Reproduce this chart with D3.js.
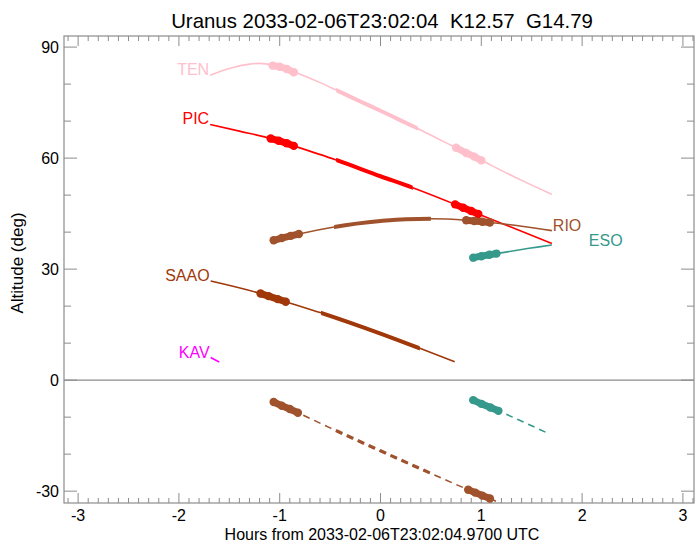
<!DOCTYPE html>
<html>
<head>
<meta charset="utf-8">
<script src="https://cdn.jsdelivr.net/npm/d3@7"></script>
<style>
  html, body { margin: 0; padding: 0; background: #fff; }
  svg { display: block; font-family: "Liberation Sans", Arial, Helvetica, sans-serif; }
</style>
</head>
<body>
<svg id="chart" width="695" height="543"></svg>
<script>
// ---------- data (hours from reference time, altitude in degrees) ----------
const titleText = "Uranus 2033-02-06T23:02:04  K12.57  G14.79";
const xLabel = "Hours from 2033-02-06T23:02:04.9700 UTC";
const yLabel = "Altitude (deg)";

const xTicks = [-3, -2, -1, 0, 1, 2, 3];
const yTicks = [-30, 0, 30, 60, 90];

// TEN
const tenHours = [-1.69, -1.5, -1.3, -1.2, -1.05, -0.85, -0.6, -0.44, -0.2, 0, 0.2, 0.37, 0.55, 0.75, 1.0, 1.3, 1.5, 1.7];
const tenAlt   = [82.4, 84.2, 85.4, 85.6, 85.0, 83.2, 80.4, 78.4, 75.3, 72.8, 70.2, 68.0, 65.5, 62.8, 59.4, 55.3, 52.7, 50.2];
const tenThick = [-0.44, 0.37];
const tenDots1 = [[-1.07, 85.0], [-1.0, 84.7], [-0.93, 84.1], [-0.86, 83.2]];
const tenDots2 = [[0.75, 62.8], [0.85, 61.4], [0.93, 60.4], [1.0, 59.4]];

// PIC
const picHours = [-1.69, -1.4, -1.09, -0.86, -0.44, 0, 0.32, 0.74, 0.97, 1.3, 1.7];
const picAlt   = [69.1, 67.3, 65.3, 63.3, 59.5, 55.1, 52.0, 47.5, 44.9, 41.3, 36.9];
const picThick = [-0.44, 0.32];
const picDots1 = [[-1.09, 65.3], [-1.01, 64.7], [-0.93, 64.0], [-0.86, 63.3]];
const picDots2 = [[0.74, 47.5], [0.82, 46.6], [0.90, 45.7], [0.97, 44.9]];

// RIO
const rioHours = [-1.09, -0.81, -0.46, 0, 0.25, 0.5, 0.85, 1.085, 1.4, 1.7];
const rioAlt   = [37.6, 39.5, 41.4, 43.0, 43.5, 43.6, 43.2, 42.6, 41.6, 40.4];
const rioThick = [-0.46, 0.5];
const rioDots1 = [[-1.06, 37.8], [-0.98, 38.4], [-0.89, 39.0], [-0.81, 39.5]];
const rioDots2 = [[0.85, 43.2], [0.93, 43.0], [1.01, 42.8], [1.085, 42.6]];

// ESO
const esoHours = [0.92, 1.15, 1.7];
const esoAlt   = [33.1, 34.2, 36.5];
const esoDots1 = [[0.92, 33.1], [1.0, 33.5], [1.08, 33.9], [1.15, 34.2]];

// SAAO
const saaoHours = [-1.685, -1.19, -0.94, -0.59, 0, 0.39, 0.736];
const saaoAlt   = [26.8, 23.4, 21.2, 18.2, 12.6, 8.6, 4.95];
const saaoThick = [-0.59, 0.39];
const saaoDots1 = [[-1.19, 23.4], [-1.11, 22.7], [-1.02, 21.9], [-0.94, 21.2]];

// KAV
const kavHours = [-1.685, -1.60];
const kavAlt   = [6.1, 4.9];

// below horizon (dashed)
const lowRioHours = [-1.09, -0.82, -0.5, 0, 0.5, 0.87, 1.085, 1.2];
const lowRioAlt   = [-5.4, -8.8, -12.9, -19.1, -25.2, -29.6, -32.0, -33.4];
const lowRioThick = [-0.46, 0.5];
const lowRioDots1 = [[-1.06, -5.9], [-0.98, -6.9], [-0.90, -7.8], [-0.82, -8.8]];
const lowRioDots2 = [[0.87, -29.6], [0.94, -30.4], [1.01, -31.2], [1.085, -32.0]];

const lowEsoHours = [0.92, 1.17, 1.665];
const lowEsoAlt   = [-5.4, -8.3, -14.4];
const lowEsoDots1 = [[0.92, -5.4], [1.0, -6.4], [1.09, -7.4], [1.17, -8.3]];

// ---------- series definitions ----------
const series = [
  { name: "TEN",  color: "#FFC0CB", h: tenHours,  a: tenAlt,  thick: tenThick,  dots: [tenDots1, tenDots2], label: "start" },
  { name: "PIC",  color: "#FF0000", h: picHours,  a: picAlt,  thick: picThick,  dots: [picDots1, picDots2], label: "start" },
  { name: "RIO",  color: "#A0522D", h: rioHours,  a: rioAlt,  thick: rioThick,  dots: [rioDots1, rioDots2], label: "end", dx: 1 },
  { name: "ESO",  color: "#35998B", h: esoHours,  a: esoAlt,  thick: null,      dots: [esoDots1], label: "end", dx: 37 },
  { name: "SAAO", color: "#A0380A", h: saaoHours, a: saaoAlt, thick: saaoThick, dots: [saaoDots1], label: "start" },
  { name: "KAV",  color: "#FF00FF", h: kavHours,  a: kavAlt,  thick: null,      dots: [], label: "start" },
  { name: "",     color: "#A0522D", h: lowRioHours, a: lowRioAlt, thick: lowRioThick, dots: [lowRioDots1, lowRioDots2], dashed: true },
  { name: "",     color: "#35998B", h: lowEsoHours, a: lowEsoAlt, thick: null, dots: [lowEsoDots1], dashed: true }
];

// ---------- layout ----------
const mLeft = 64, mRight = 694, mTop = 36, mBottom = 503;
const svg = d3.select("#chart");

const x = d3.scaleLinear().domain([-3.14, 3.11]).range([mLeft, mRight]);
const y = d3.scaleLinear().domain([-33.2, 93.0]).range([mBottom, mTop]);

const axisColor = "#8c8c8c";

const defs = svg.append("defs");
defs.append("clipPath").attr("id", "plotclip")
  .append("rect").attr("x", mLeft).attr("y", mTop).attr("width", mRight - mLeft).attr("height", mBottom - mTop);

// frame
svg.append("rect").attr("x", mLeft).attr("y", mTop).attr("width", mRight - mLeft).attr("height", mBottom - mTop)
  .attr("fill", "none").attr("stroke", axisColor).attr("stroke-width", 1.2);

// zero line
svg.append("line")
  .attr("x1", mLeft).attr("x2", mRight)
  .attr("y1", y(0)).attr("y2", y(0))
  .attr("stroke", axisColor).attr("stroke-width", 1.2);

// ticks
const xMinor = d3.range(-31, 32).map(d => d / 10).filter(d => d >= -3.14 && d <= 3.11 && Math.abs(d - Math.round(d)) > 1e-6);
const tickG = svg.append("g").attr("stroke", axisColor).attr("stroke-width", 1);
[[xTicks, 10], [xMinor, 5]].forEach(([vals, len]) => {
  vals.forEach(v => {
    tickG.append("line").attr("x1", x(v)).attr("x2", x(v)).attr("y1", mBottom).attr("y2", mBottom - len);
    tickG.append("line").attr("x1", x(v)).attr("x2", x(v)).attr("y1", mTop).attr("y2", mTop + len);
  });
});
const yMinor = d3.range(-30, 91, 10).filter(d => d % 30 !== 0);
[[yTicks, 13], [yMinor, 7]].forEach(([vals, len]) => {
  vals.forEach(v => {
    tickG.append("line").attr("y1", y(v)).attr("y2", y(v)).attr("x1", mLeft).attr("x2", mLeft + len);
    tickG.append("line").attr("y1", y(v)).attr("y2", y(v)).attr("x1", mRight).attr("x2", mRight - len);
  });
});

// tick labels
svg.append("g").selectAll("text").data(xTicks).join("text")
  .attr("x", d => x(d)).attr("y", 521)
  .attr("text-anchor", "middle").attr("font-size", 16).attr("fill", "#000")
  .text(d => d);
svg.append("g").selectAll("text").data(yTicks).join("text")
  .attr("x", 59).attr("y", d => y(d) + 6)
  .attr("text-anchor", "end").attr("font-size", 16).attr("fill", "#000")
  .text(d => d);

// titles
svg.append("text").attr("x", 382).attr("y", 28).attr("text-anchor", "middle")
  .attr("font-size", 20.4).attr("fill", "#000").style("white-space", "pre").text(titleText);
svg.append("text").attr("x", 382).attr("y", 540).attr("text-anchor", "middle")
  .attr("font-size", 16).attr("fill", "#000").text(xLabel);
svg.append("text").attr("transform", `translate(23,263) rotate(-90)`)
  .attr("text-anchor", "middle").attr("font-size", 17).attr("fill", "#000").text(yLabel);

// ---------- curves ----------
const plot = svg.append("g").attr("clip-path", "url(#plotclip)");
const line = d3.line().x(d => x(d[0])).y(d => y(d[1])).curve(d3.curveMonotoneX);

series.forEach((s, i) => {
  const pts = s.h.map((h, k) => [h, s.a[k]]);
  const g = plot.append("g");
  const base = g.append("path").attr("d", line(pts))
    .attr("fill", "none").attr("stroke", s.color).attr("stroke-width", 1.6);
  if (s.dashed) base.attr("stroke-dasharray", "7,5");

  if (s.thick) {
    const id = "thick" + i;
    defs.append("clipPath").attr("id", id).append("rect")
      .attr("x", x(s.thick[0])).attr("width", x(s.thick[1]) - x(s.thick[0]))
      .attr("y", mTop).attr("height", mBottom - mTop);
    const th = g.append("path").attr("d", line(pts)).attr("clip-path", `url(#${id})`)
      .attr("fill", "none").attr("stroke", s.color).attr("stroke-width", s.dashed ? 3.2 : 4);
    if (s.dashed) th.attr("stroke-dasharray", "7,5");
  }

  s.dots.forEach(grp => {
    g.append("path").attr("d", d3.line().x(d => x(d[0])).y(d => y(d[1]))(grp))
      .attr("fill", "none").attr("stroke", s.color).attr("stroke-width", 7).attr("stroke-linecap", "round");
    g.selectAll(null).data(grp).join("circle")
      .attr("cx", d => x(d[0])).attr("cy", d => y(d[1])).attr("r", 4.2).attr("fill", s.color);
  });

  if (s.name) {
    const first = pts[0], last = pts[pts.length - 1];
    const t = svg.append("text").attr("font-size", 16).attr("fill", s.color).text(s.name);
    if (s.label === "start") {
      t.attr("x", x(first[0]) - 1).attr("y", y(first[1])).attr("text-anchor", "end");
    } else {
      t.attr("x", x(last[0]) + (s.dx || 1)).attr("y", y(last[1]) + (s.name === "ESO" ? 1 : 0)).attr("text-anchor", "start");
    }
  }
});
</script>
</body>
</html>
